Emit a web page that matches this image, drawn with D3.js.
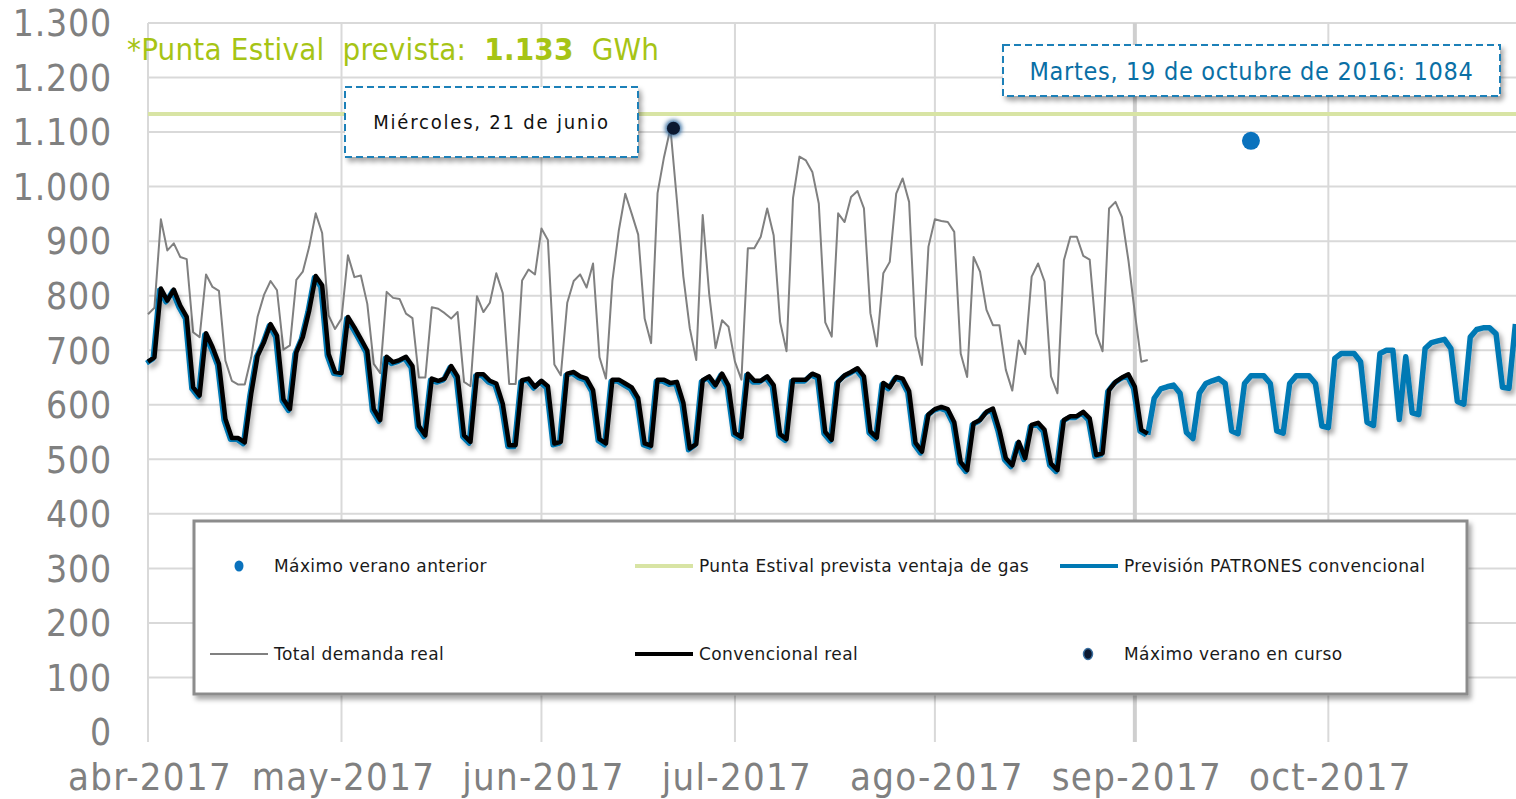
<!DOCTYPE html>
<html>
<head>
<meta charset="utf-8">
<script src="https://cdn.jsdelivr.net/npm/d3@7"></script>
<style>
  html, body { margin: 0; padding: 0; background: #fff; }
  svg { display: block; }
</style>
</head>
<body>
<svg id="chart"></svg>
<script>
const WIDTH = 1516,
      HEIGHT = 799;
const START_DATE = new Date(Date.UTC(2017, 3, 1));
const END_DATE = new Date(Date.UTC(2017, 10, 1));

const Y_TICKS = [0, 100, 200, 300, 400, 500, 600, 700, 800, 900, 1000, 1100, 1200, 1300];
const MONTH_LABELS = ["abr-2017", "may-2017", "jun-2017", "jul-2017", "ago-2017", "sep-2017", "oct-2017"];

// daily values from 1 Apr 2017
const TOTAL_DEMANDA = [
    766, 778, 940, 883, 896, 871, 867, 733, 724, 839, 816, 809, 681, 644, 637, 637, 687, 762, 802, 827,
    810, 701, 709, 829, 844, 890, 951, 915, 764, 739, 758, 874, 834, 837, 785, 675, 658, 807, 796, 794,
    767, 759, 650, 650, 779, 776, 768, 758, 770, 642, 634, 799, 770, 787, 841, 805, 638, 638, 828, 848,
    839, 923, 902, 674, 654, 787, 827, 839, 815, 859, 687, 648, 827, 920, 987, 950, 912, 758, 713, 988,
    1054, 1107, 975, 835, 740, 682, 948, 804, 704, 755, 743, 679, 646, 887, 887, 908, 960, 911, 752, 698,
    979, 1055, 1048, 1027, 969, 751, 725, 951, 935, 981, 992, 960, 768, 707, 841, 862, 987, 1015, 972, 725,
    673, 890, 940, 937, 935, 917, 694, 651, 871, 844, 774, 746, 746, 664, 626, 718, 693, 835, 859, 826,
    652, 621, 865, 908, 908, 873, 866, 731, 698, 960, 972, 944, 865, 768, 679, 682
];
const CONVENCIONAL_REAL = [
    679, 687, 813, 791, 811, 782, 761, 632, 617, 731, 706, 675, 574, 539, 539, 531, 620, 690, 715, 748,
    727, 610, 592, 696, 724, 773, 836, 819, 693, 660, 658, 761, 742, 721, 699, 592, 572, 688, 678, 682,
    688, 671, 561, 544, 648, 644, 648, 671, 652, 544, 532, 656, 656, 644, 639, 602, 526, 526, 645, 648,
    633, 644, 634, 529, 532, 657, 660, 652, 648, 627, 537, 529, 646, 646, 639, 632, 612, 529, 525, 646,
    646, 640, 642, 604, 520, 528, 645, 652, 636, 657, 635, 548, 541, 657, 644, 644, 652, 636, 546, 537,
    646, 646, 646, 657, 652, 550, 536, 642, 654, 660, 667, 652, 551, 540, 640, 632, 651, 648, 625, 530,
    514, 582, 592, 596, 592, 568, 495, 480, 566, 572, 587, 593, 554, 502, 489, 532, 502, 563, 567, 554,
    492, 480, 572, 579, 579, 587, 575, 508, 511, 627, 642, 650, 656, 633, 554, 547
];
// forecast from 3 Sep 2017 (day 155) onwards
const PREVISION_START = 155;
const PREVISION_PATRONES = [
    545, 612, 629, 633, 636, 621, 549, 538, 621, 639, 644, 648, 639, 552, 547, 639, 653, 653, 653, 639,
    552, 548, 639, 653, 653, 653, 639, 561, 558, 685, 694, 694, 694, 679, 568, 562, 694, 700, 700, 573,
    688, 585, 582, 703, 714, 717, 720, 703, 606, 601, 724, 738, 741, 741, 730, 632, 630, 748
];
const PUNTA_PREVISTA = 1133;
const MAX_EN_CURSO = { date: new Date(Date.UTC(2017, 5, 21)), value: 1107 };
const MAX_ANTERIOR = { date: new Date(Date.UTC(2017, 8, 19)), value: 1084 };

const LEGEND_ITEMS = [
    { label: "Máximo verano anterior", kind: "dotBlue", col: 0, row: 0 },
    { label: "Punta Estival prevista ventaja de gas", kind: "lineGreen", col: 1, row: 0 },
    { label: "Previsión PATRONES convencional", kind: "lineBlue", col: 2, row: 0 },
    { label: "Total demanda real", kind: "lineGray", col: 0, row: 1 },
    { label: "Convencional real", kind: "lineBlack", col: 1, row: 1 },
    { label: "Máximo verano en curso", kind: "dotDark", col: 2, row: 1 }
];

const GRID_COLOUR = "#d9d9d9";
const GRAY_COLOUR = "#808080";
const BLUE_COLOUR = "#0079b4";
const GREEN_LINE_COLOUR = "#d8e4a4";
const TITLE_GREEN = "#a6c415";
const CONDENSED = "'DejaVu Sans Condensed', 'DejaVu Sans', sans-serif";
const PLAIN = "'DejaVu Sans', Verdana, sans-serif";

const X_SCALE = d3.scaleUtc()
    .domain([START_DATE, END_DATE])
    .range([148, 148 + 214 * 6.45]);
const Y_SCALE = d3.scaleLinear()
    .domain([0, 1300])
    .range([732, 23]);

const esLocale = d3.formatLocale({ decimal: ",", thousands: ".", grouping: [3], currency: ["", " €"] });
const formatThousands = esLocale.format(",");

function dayDate(i) {
    return d3.utcDay.offset(START_DATE, i);
}

function addDefs(svg) {
    let defs = svg.append("defs");

    defs.append("filter")
        .attr("id", "shadow")
        .attr("x", "-10%").attr("y", "-10%")
        .attr("width", "120%").attr("height", "130%")
        .append("feDropShadow")
        .attr("dx", 3).attr("dy", 4)
        .attr("stdDeviation", 2.5)
        .attr("flood-color", "#000")
        .attr("flood-opacity", 0.35);

    defs.append("filter")
        .attr("id", "glow")
        .attr("x", "-100%").attr("y", "-100%")
        .attr("width", "300%").attr("height", "300%")
        .append("feGaussianBlur")
        .attr("stdDeviation", 2);
}

function drawGrid(svg) {
    let months = d3.utcMonth.range(START_DATE, END_DATE);

    //horizontal gridlines
    svg.append("g")
        .selectAll("line")
        .data(Y_TICKS.filter(t => t > 0))
        .join("line")
        .attr("x1", X_SCALE(START_DATE))
        .attr("x2", WIDTH)
        .attr("y1", d => Y_SCALE(d))
        .attr("y2", d => Y_SCALE(d))
        .attr("stroke", GRID_COLOUR)
        .attr("stroke-width", 2);

    //vertical gridlines at month starts
    svg.append("g")
        .selectAll("line")
        .data(months)
        .join("line")
        .attr("x1", d => X_SCALE(d))
        .attr("x2", d => X_SCALE(d))
        .attr("y1", Y_SCALE(1300))
        .attr("y2", Y_SCALE(0) + 10)
        .attr("stroke", d => d.getUTCMonth() === 8 ? "#cfcfcf" : GRID_COLOUR)
        .attr("stroke-width", d => d.getUTCMonth() === 8 ? 4 : 2);

    //x axis line
    svg.append("line")
        .attr("x1", X_SCALE(START_DATE))
        .attr("x2", WIDTH)
        .attr("y1", Y_SCALE(0))
        .attr("y2", Y_SCALE(0))
        .attr("stroke", "#bfbfbf")
        .attr("stroke-width", 3)
        .attr("filter", "url(#shadow)");

    //y labels
    svg.append("g")
        .selectAll("text")
        .data(Y_TICKS)
        .join("text")
        .attr("x", 112)
        .attr("y", d => Y_SCALE(d))
        .attr("dy", "0.36em")
        .attr("text-anchor", "end")
        .attr("font-family", CONDENSED)
        .attr("font-size", 37)
        .attr("letter-spacing", 0.8)
        .attr("fill", GRAY_COLOUR)
        .text(d => formatThousands(d));

    //x labels
    svg.append("g")
        .selectAll("text")
        .data(months)
        .join("text")
        .attr("x", d => X_SCALE(d) + 2)
        .attr("y", 790)
        .attr("text-anchor", "middle")
        .attr("font-family", CONDENSED)
        .attr("font-size", 38)
        .attr("letter-spacing", 1.3)
        .attr("fill", GRAY_COLOUR)
        .text((d, i) => MONTH_LABELS[i]);
}

function drawSeries(svg) {
    let line = d3.line()
        .x(d => X_SCALE(d.date))
        .y(d => Y_SCALE(d.value));

    let total = TOTAL_DEMANDA.map((v, i) => ({ date: dayDate(i), value: v }));
    let conv = CONVENCIONAL_REAL.map((v, i) => ({ date: dayDate(i), value: v }));
    let prev = PREVISION_PATRONES.map((v, i) => ({ date: dayDate(PREVISION_START + i), value: v }));

    //reference line
    svg.append("line")
        .attr("x1", X_SCALE(START_DATE))
        .attr("x2", WIDTH)
        .attr("y1", Y_SCALE(PUNTA_PREVISTA))
        .attr("y2", Y_SCALE(PUNTA_PREVISTA))
        .attr("stroke", GREEN_LINE_COLOUR)
        .attr("stroke-width", 4);

    svg.append("path")
        .datum(total)
        .attr("d", line)
        .attr("fill", "none")
        .attr("stroke", GRAY_COLOUR)
        .attr("stroke-width", 2)
        .attr("stroke-linejoin", "round");

    //forecast under the real conventional line
    svg.append("path")
        .datum(conv)
        .attr("d", line)
        .attr("transform", "translate(-1.5,1.5)")
        .attr("fill", "none")
        .attr("stroke", BLUE_COLOUR)
        .attr("stroke-width", 5)
        .attr("stroke-linejoin", "round")
        .attr("filter", "url(#shadow)");

    svg.append("path")
        .datum(prev)
        .attr("d", line)
        .attr("fill", "none")
        .attr("stroke", BLUE_COLOUR)
        .attr("stroke-width", 5.5)
        .attr("stroke-linejoin", "round")
        .attr("filter", "url(#shadow)");

    svg.append("path")
        .datum(conv)
        .attr("d", line)
        .attr("fill", "none")
        .attr("stroke", "#000")
        .attr("stroke-width", 4.5)
        .attr("stroke-linejoin", "round");

    //markers
    svg.append("circle")
        .attr("cx", X_SCALE(MAX_ANTERIOR.date))
        .attr("cy", Y_SCALE(MAX_ANTERIOR.value))
        .attr("r", 9)
        .attr("fill", "#0a72bd");

    svg.append("circle")
        .attr("cx", X_SCALE(MAX_EN_CURSO.date) + 3)
        .attr("cy", Y_SCALE(MAX_EN_CURSO.value))
        .attr("r", 8.5)
        .attr("fill", "#3a6fa0")
        .attr("filter", "url(#glow)");
    svg.append("circle")
        .attr("cx", X_SCALE(MAX_EN_CURSO.date) + 3)
        .attr("cy", Y_SCALE(MAX_EN_CURSO.value))
        .attr("r", 6.5)
        .attr("fill", "#0b1830");
}

function drawNote(svg, x, y, w, h, text, colour, size, spacing) {
    let g = svg.append("g");
    g.append("rect")
        .attr("x", x).attr("y", y)
        .attr("width", w).attr("height", h)
        .attr("fill", "#fff")
        .attr("stroke", "#1f80b8")
        .attr("stroke-width", 2)
        .attr("stroke-dasharray", "7 4")
        .attr("filter", "url(#shadow)");
    g.append("text")
        .attr("x", x + w / 2)
        .attr("y", y + h / 2)
        .attr("dy", "0.36em")
        .attr("text-anchor", "middle")
        .attr("font-family", CONDENSED)
        .attr("font-size", size)
        .attr("letter-spacing", spacing)
        .attr("fill", colour)
        .text(text);
}

function drawTitle(svg) {
    let t = svg.append("text")
        .attr("x", 127)
        .attr("y", 60)
        .attr("font-family", CONDENSED)
        .attr("font-size", 31)
        .attr("letter-spacing", 0.2)
        .attr("fill", TITLE_GREEN)
        .attr("xml:space", "preserve");
    t.append("tspan").text("*Punta Estival  prevista:  ");
    t.append("tspan").attr("font-weight", "bold").text(formatThousands(PUNTA_PREVISTA));
    t.append("tspan").text("  GWh");
}

function drawLegend(svg) {
    let g = svg.append("g");
    let colX = [210, 635, 1060];
    let rowY = [566, 654];

    g.append("rect")
        .attr("x", 194).attr("y", 521)
        .attr("width", 1273).attr("height", 173)
        .attr("fill", "#fff")
        .attr("stroke", "#8c8c8c")
        .attr("stroke-width", 3)
        .attr("filter", "url(#shadow)");

    LEGEND_ITEMS.forEach(item => {
        let x0 = colX[item.col];
        let y0 = rowY[item.row];
        let sym = g.append("g");

        if (item.kind === "dotBlue") {
            sym.append("ellipse")
                .attr("cx", x0 + 29).attr("cy", y0)
                .attr("rx", 4.5).attr("ry", 5.5)
                .attr("fill", "#0a72bd");
        } else if (item.kind === "dotDark") {
            sym.append("ellipse")
                .attr("cx", x0 + 28).attr("cy", y0)
                .attr("rx", 4.5).attr("ry", 5.5)
                .attr("fill", "#0b1830")
                .attr("stroke", "#3a6fa0")
                .attr("stroke-width", 1.5);
        } else {
            let styles = {
                lineGreen: [GREEN_LINE_COLOUR, 4],
                lineBlue: [BLUE_COLOUR, 4],
                lineGray: [GRAY_COLOUR, 2],
                lineBlack: ["#000", 4]
            };
            sym.append("line")
                .attr("x1", x0).attr("x2", x0 + 58)
                .attr("y1", y0).attr("y2", y0)
                .attr("stroke", styles[item.kind][0])
                .attr("stroke-width", styles[item.kind][1]);
        }

        g.append("text")
            .attr("x", x0 + 64)
            .attr("y", y0)
            .attr("dy", "0.36em")
            .attr("font-family", PLAIN)
            .attr("font-size", 17)
            .attr("letter-spacing", 0.4)
            .attr("fill", "#1a1a1a")
            .text(item.label);
    });
}

let svg = d3.select("#chart")
    .attr("width", WIDTH)
    .attr("height", HEIGHT);

addDefs(svg);
drawGrid(svg);
drawSeries(svg);
drawNote(svg, 345, 87, 293, 70, "Miércoles, 21 de junio", "#111", 20, 1.8);
drawNote(svg, 1003, 45, 497, 51, "Martes, 19 de octubre de 2016: 1084", "#0a6fa5", 25, 0.7);
drawLegend(svg);
drawTitle(svg);
</script>
</body>
</html>
